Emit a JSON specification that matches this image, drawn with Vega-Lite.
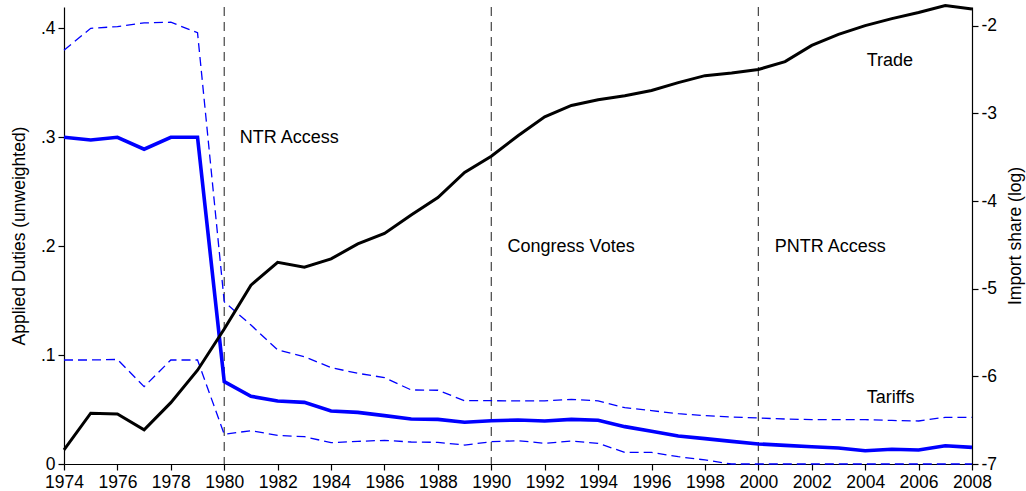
{
  "$schema": "https://vega.github.io/schema/vega-lite/v6.json",
  "width": 908,
  "height": 457,
  "autosize": {"type": "none"},
  "padding": {"left": 64, "top": 7, "right": 54, "bottom": 27},
  "background": "white",
  "config": {
    "view": {"stroke": null},
    "font": "Liberation Sans",
    "axis": {
      "grid": false,
      "domainColor": "black",
      "domainWidth": 1.2,
      "tickColor": "black",
      "tickWidth": 1.2,
      "tickSize": 6,
      "labelColor": "black",
      "titleColor": "black",
      "labelFont": "Liberation Sans",
      "titleFont": "Liberation Sans",
      "labelFontSize": 17.5,
      "titleFontSize": 17.5,
      "titleFontWeight": "normal",
      "labelPadding": 3
    }
  },
  "datasets": {
    "series": [
      {"year": 1974, "mean": 0.300, "hi": 0.380, "lo": 0.0955, "trade": -6.84},
      {"year": 1975, "mean": 0.2975, "hi": 0.400, "lo": 0.0955, "trade": -6.42},
      {"year": 1976, "mean": 0.300, "hi": 0.4016, "lo": 0.096, "trade": -6.43},
      {"year": 1977, "mean": 0.289, "hi": 0.405, "lo": 0.071, "trade": -6.61},
      {"year": 1978, "mean": 0.300, "hi": 0.4056, "lo": 0.0955, "trade": -6.30},
      {"year": 1979, "mean": 0.300, "hi": 0.396, "lo": 0.0955, "trade": -5.93},
      {"year": 1980, "mean": 0.0756, "hi": 0.149, "lo": 0.0273, "trade": -5.46},
      {"year": 1981, "mean": 0.0622, "hi": 0.1276, "lo": 0.0306, "trade": -4.96},
      {"year": 1982, "mean": 0.0578, "hi": 0.1047, "lo": 0.0263, "trade": -4.70},
      {"year": 1983, "mean": 0.0566, "hi": 0.0985, "lo": 0.0251, "trade": -4.755},
      {"year": 1984, "mean": 0.0487, "hi": 0.0885, "lo": 0.0196, "trade": -4.66},
      {"year": 1985, "mean": 0.0474, "hi": 0.0833, "lo": 0.0208, "trade": -4.49},
      {"year": 1986, "mean": 0.0444, "hi": 0.0793, "lo": 0.0217, "trade": -4.37},
      {"year": 1987, "mean": 0.0413, "hi": 0.068, "lo": 0.0202, "trade": -4.16},
      {"year": 1988, "mean": 0.041, "hi": 0.0677, "lo": 0.0199, "trade": -3.96},
      {"year": 1989, "mean": 0.0383, "hi": 0.0581, "lo": 0.0174, "trade": -3.675},
      {"year": 1990, "mean": 0.0397, "hi": 0.0581, "lo": 0.0205, "trade": -3.49},
      {"year": 1991, "mean": 0.0404, "hi": 0.058, "lo": 0.0214, "trade": -3.256},
      {"year": 1992, "mean": 0.0395, "hi": 0.058, "lo": 0.019, "trade": -3.04},
      {"year": 1993, "mean": 0.041, "hi": 0.0594, "lo": 0.0211, "trade": -2.91},
      {"year": 1994, "mean": 0.0401, "hi": 0.058, "lo": 0.019, "trade": -2.845},
      {"year": 1995, "mean": 0.0343, "hi": 0.0517, "lo": 0.0107, "trade": -2.80},
      {"year": 1996, "mean": 0.030, "hi": 0.049, "lo": 0.0107, "trade": -2.74},
      {"year": 1997, "mean": 0.0257, "hi": 0.0462, "lo": 0.0067, "trade": -2.65},
      {"year": 1998, "mean": 0.0233, "hi": 0.0444, "lo": 0.0037, "trade": -2.57},
      {"year": 1999, "mean": 0.0208, "hi": 0.0432, "lo": 0.0, "trade": -2.54},
      {"year": 2000, "mean": 0.0184, "hi": 0.0422, "lo": 0.0, "trade": -2.50},
      {"year": 2001, "mean": 0.0171, "hi": 0.0413, "lo": 0.0, "trade": -2.41},
      {"year": 2002, "mean": 0.0159, "hi": 0.0407, "lo": 0.0, "trade": -2.225},
      {"year": 2003, "mean": 0.0147, "hi": 0.0407, "lo": 0.0, "trade": -2.10},
      {"year": 2004, "mean": 0.0122, "hi": 0.0407, "lo": 0.0, "trade": -2.00},
      {"year": 2005, "mean": 0.0135, "hi": 0.040, "lo": 0.0, "trade": -1.92},
      {"year": 2006, "mean": 0.0129, "hi": 0.0395, "lo": 0.0, "trade": -1.85},
      {"year": 2007, "mean": 0.0168, "hi": 0.0429, "lo": 0.0, "trade": -1.77},
      {"year": 2008, "mean": 0.0153, "hi": 0.0429, "lo": 0.0, "trade": -1.81}
    ],
    "events": [{"year": 1980}, {"year": 1990}, {"year": 2000}],
    "notes": [
      {"year": 1980.58, "value": 0.2993, "label": "NTR Access"},
      {"year": 1990.61, "value": 0.1997, "label": "Congress Votes"},
      {"year": 2000.61, "value": 0.1997, "label": "PNTR Access"},
      {"year": 2004.06, "value": 0.3696, "label": "Trade"},
      {"year": 2004.06, "value": 0.0606, "label": "Tariffs"}
    ]
  },
  "encoding": {
    "x": {
      "field": "year",
      "type": "quantitative",
      "scale": {"domain": [1974, 2008], "nice": false, "zero": false},
      "axis": {
        "title": null,
        "values": [1974, 1976, 1978, 1980, 1982, 1984, 1986, 1988, 1990, 1992, 1994, 1996, 1998, 2000, 2002, 2004, 2006, 2008],
        "format": "d",
        "labelFlush": false,
        "labelOverlap": false
      }
    }
  },
  "layer": [
    {
      "layer": [
        {
          "data": {"name": "events"},
          "mark": {"type": "rule", "color": "#444444", "strokeWidth": 1.2, "strokeDash": [9, 6]},
          "encoding": {}
        },
        {
          "data": {"name": "series"},
          "mark": {"type": "line", "color": "#0000ff", "strokeWidth": 1.3, "strokeDash": [9, 5]},
          "encoding": {
            "y": {
              "field": "hi",
              "type": "quantitative",
              "scale": {"domain": [0, 0.4196], "nice": false, "zero": false},
              "axis": {
                "title": "Applied Duties (unweighted)",
                "orient": "left",
                "values": [0, 0.1, 0.2, 0.3, 0.4],
                "labelExpr": "datum.value === 0 ? '0' : '.' + round(datum.value * 10)",
                "titlePadding": 12,
                "labelFlush": false
              }
            }
          }
        },
        {
          "data": {"name": "series"},
          "mark": {"type": "line", "color": "#0000ff", "strokeWidth": 1.3, "strokeDash": [9, 5]},
          "encoding": {"y": {"field": "lo", "type": "quantitative"}}
        },
        {
          "data": {"name": "series"},
          "mark": {"type": "line", "color": "#0000ff", "strokeWidth": 3.6},
          "encoding": {"y": {"field": "mean", "type": "quantitative"}}
        },
        {
          "data": {"name": "notes"},
          "mark": {"type": "text", "align": "left", "baseline": "middle", "fontSize": 18, "font": "Liberation Sans", "color": "black"},
          "encoding": {
            "y": {"field": "value", "type": "quantitative"},
            "text": {"field": "label"}
          }
        }
      ]
    },
    {
      "data": {"name": "series"},
      "mark": {"type": "line", "color": "black", "strokeWidth": 3},
      "encoding": {
        "y": {
          "field": "trade",
          "type": "quantitative",
          "scale": {"domain": [-7, -1.787], "nice": false, "zero": false},
          "axis": {
            "title": "Import share (log)",
            "orient": "right",
            "values": [-7, -6, -5, -4, -3, -2],
            "labelExpr": "'' + datum.value",
            "titleAngle": 270,
            "titleBaseline": "bottom",
            "titlePadding": 28,
            "labelFlush": false
          }
        }
      }
    }
  ],
  "resolve": {"scale": {"y": "independent"}}
}
